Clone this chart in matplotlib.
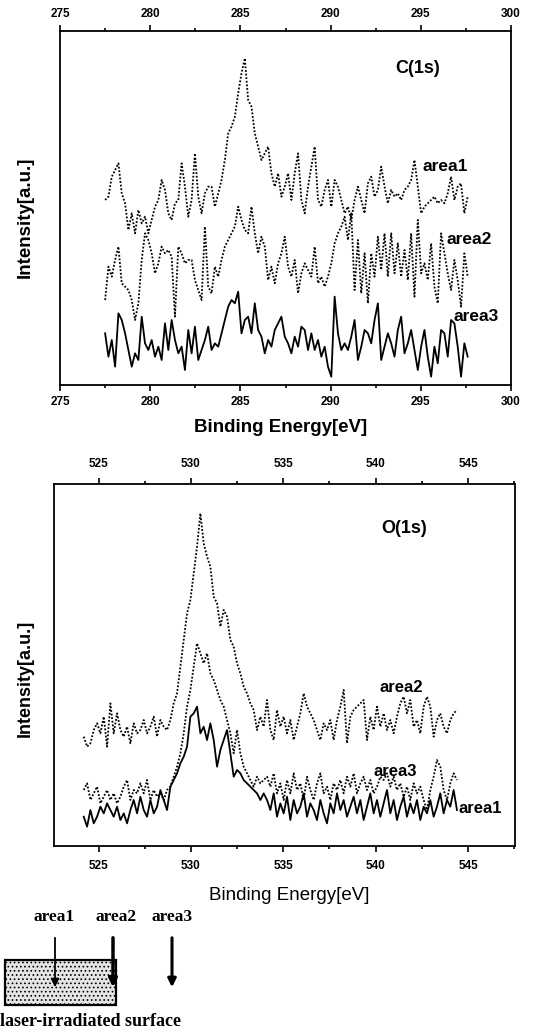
import numpy as np
import matplotlib
matplotlib.use("Agg")
import matplotlib.pyplot as plt
from matplotlib.ticker import MultipleLocator
from matplotlib.patches import Rectangle

plt.rcParams["font.family"] = ["Liberation Sans", "DejaVu Sans"]
plt.rcParams["hatch.linewidth"] = 0.7

# --------------------------------------------------
# DATA  (intensities in arbitrary units)
# --------------------------------------------------

c1s_start, c1s_end = 277.5, 297.6

c1s_area1 = [555, 565, 625, 645, 665, 575, 545, 465, 515, 455, 525, 485, 505, 455, 495, 535,
             555, 615, 585, 515, 495, 545, 555, 665, 595, 505, 555, 695, 565, 515, 575, 595,
             595, 535, 575, 615, 675, 755, 775, 805, 875, 935, 980, 855, 835, 755, 715, 675,
             695, 715, 635, 595, 635, 565, 595, 635, 555, 635, 695, 555, 515, 595, 655, 715,
             555, 535, 585, 615, 535, 615, 595, 555, 515, 535, 495, 555, 595, 555, 515, 605,
             625, 565, 585, 655, 595, 545, 585, 565, 575, 555, 585, 595, 615, 675, 595, 515,
             535, 545, 555, 565, 545, 555, 545, 575, 625, 555, 595, 605, 515, 565]

c1s_area2 = [255, 355, 325, 375, 415, 305, 295, 285, 255, 195, 245, 375, 455, 435, 395, 335,
             365, 415, 395, 405, 385, 205, 415, 395, 365, 375, 375, 315, 285, 255, 475, 295,
             275, 355, 325, 375, 415, 435, 455, 475, 535, 495, 465, 455, 535, 455, 395, 445,
             415, 315, 355, 305, 365, 395, 445, 355, 325, 375, 275, 335, 365, 345, 325, 415,
             305, 325, 295, 325, 365, 425, 455, 475, 505, 435, 515, 285, 435, 275, 395, 245,
             395, 325, 445, 345, 455, 325, 455, 335, 425, 325, 405, 315, 455, 265, 495, 335,
             365, 315, 425, 295, 245, 455, 395, 335, 285, 375, 315, 235, 395, 325]

c1s_area3 = [155, 85, 135, 55, 215, 195, 155, 105, 55, 95, 75, 205, 125, 105, 135, 85,
             115, 75, 185, 105, 195, 135, 95, 115, 45, 165, 95, 175, 75, 105, 135, 175,
             105, 125, 115, 155, 195, 235, 255, 245, 280, 155, 195, 205, 155, 245, 165, 145,
             95, 135, 115, 165, 185, 205, 145, 125, 95, 145, 115, 175, 165, 105, 155, 105,
             135, 85, 115, 55, 25, 265, 155, 105, 125, 105, 145, 195, 75, 115, 165, 155,
             125, 195, 245, 75, 115, 155, 125, 85, 165, 205, 95, 125, 165, 105, 45, 115,
             165, 85, 25, 115, 65, 165, 155, 85, 195, 185, 115, 25, 125, 85]

o1s_start, o1s_end = 524.2, 544.4

o1s_area2 = [328, 298, 308, 348, 368, 338, 388, 298, 428, 338, 398, 348, 328, 358, 308, 368,
             338, 348, 378, 338, 358, 388, 328, 378, 358, 348, 378, 428, 458, 538, 618, 698,
             738, 818, 898, 998, 908, 868, 838, 748, 728, 658, 708, 688, 618, 598, 548, 518,
             478, 458, 428, 408, 348, 388, 358,
             438, 348, 318, 408, 358, 388, 338, 378, 318, 358, 398, 458, 418, 398, 378, 348,
             318, 368, 348, 378, 318, 378, 418, 468, 308, 388, 408, 418, 428, 438, 318, 388,
             348, 418, 358, 398, 348, 378, 338, 388, 428, 448, 398, 438, 358, 378, 338, 418,
             448, 418, 328, 378, 398, 358, 338, 378, 398, 408]

o1s_area3 = [168, 188, 138, 158, 178, 128, 148, 168, 138, 158, 128, 148, 178, 198, 138, 168,
             158, 188, 158, 198, 138, 168, 148, 158, 138, 168, 178, 208, 238, 278, 338, 418,
             468, 538, 608, 578, 548, 578, 518, 498, 468, 438, 418, 378, 338, 278, 348, 278,
             238, 218, 198, 178, 208, 188, 198,
             208, 178, 218, 158, 188, 138, 198, 158, 218, 168, 188, 138, 208, 168, 138, 188,
             218, 158, 178, 138, 188, 168, 198, 158, 208, 178, 218, 158, 188, 208, 168, 198,
             158, 178, 208, 198, 218, 178, 208, 168, 188, 148, 178, 138, 188, 158, 178, 138,
             108, 168, 208, 258, 238, 168, 138, 188, 218, 198]

o1s_area1 = [88, 58, 108, 68, 88, 118, 98, 128, 108, 88, 118, 78, 98, 68, 108, 138,
             98, 148, 108, 88, 138, 98, 118, 168, 138, 108, 178, 198, 218, 248, 268, 298,
             388, 398, 418, 338, 358, 318, 368, 318, 238, 288, 318, 348, 278, 208, 228, 218,
             198, 188, 178, 168, 158, 138, 158,
             138, 108, 158, 88, 128, 98, 148, 78, 138, 98, 118, 158, 88, 128, 108, 78,
             138, 98, 68, 128, 98, 158, 108, 138, 88, 118, 148, 98, 138, 78, 118, 158,
             98, 138, 88, 128, 168, 98, 138, 78, 118, 148, 88, 128, 98, 138, 78, 118,
             98, 138, 88, 118, 158, 98, 138, 118, 168, 108]

dotted = (0, (1, 1))

# --------------------------------------------------
# FIGURE
# --------------------------------------------------

fig = plt.figure(figsize=(5.33, 10.33), dpi=100)
ax1 = fig.add_axes([0.1126, 0.6273, 0.8461, 0.3427])
ax2 = fig.add_axes([0.1013, 0.1810, 0.8649, 0.3505])


def style_axis(ax, xmin, xmax, ymax, pad):
    ax.set_xlim(xmin, xmax)
    ax.set_ylim(0, ymax)
    ax.set_yticks([])
    ax.xaxis.set_major_locator(MultipleLocator(5))
    ax.xaxis.set_minor_locator(MultipleLocator(2.5))
    ax.tick_params(axis="x", which="both", direction="out", top=True, bottom=True,
                   labeltop=True, labelbottom=True, width=1.2, labelsize=8.5)
    ax.tick_params(axis="x", which="major", length=4, pad=pad)
    ax.tick_params(axis="x", which="minor", length=2.5)
    for t in ax.xaxis.get_major_ticks():
        t.label1.set_fontweight("bold")
        t.label2.set_fontweight("bold")
    for sp in ax.spines.values():
        sp.set_linewidth(1.3)


# --------------------------------------------------
# PLOT 1 : C(1s)
# --------------------------------------------------

style_axis(ax1, 275, 300, 1062, 4)
e = np.linspace(c1s_start, c1s_end, len(c1s_area1))
ax1.plot(e, c1s_area1, color="black", lw=1.3, ls=dotted)
e = np.linspace(c1s_start, c1s_end, len(c1s_area2))
ax1.plot(e, c1s_area2, color="black", lw=1.3, ls=dotted)
e = np.linspace(c1s_start, c1s_end, len(c1s_area3))
ax1.plot(e, c1s_area3, color="black", lw=1.3)

ax1.text(294.85, 948, "C(1s)", ha="center", va="center", fontsize=13, fontweight="bold")
ax1.text(295.1, 654, "area1", ha="left", va="center", fontsize=12.5, fontweight="bold")
ax1.text(296.45, 435, "area2", ha="left", va="center", fontsize=12.5, fontweight="bold")
ax1.text(296.8, 204, "area3", ha="left", va="center", fontsize=12.5, fontweight="bold")

# --------------------------------------------------
# PLOT 2 : O(1s)
# --------------------------------------------------

style_axis(ax2, 522.59, 547.54, 1086, 6)
e = np.linspace(o1s_start, o1s_end, len(o1s_area2))
ax2.plot(e, o1s_area2, color="black", lw=1.3, ls=dotted)
e = np.linspace(o1s_start, o1s_end, len(o1s_area3))
ax2.plot(e, o1s_area3, color="black", lw=1.3, ls=dotted)
e = np.linspace(o1s_start, o1s_end, len(o1s_area1))
ax2.plot(e, o1s_area1, color="black", lw=1.3)

ax2.text(541.55, 951, "O(1s)", ha="center", va="center", fontsize=13, fontweight="bold")
ax2.text(540.2, 474, "area2", ha="left", va="center", fontsize=12, fontweight="bold")
ax2.text(539.9, 225, "area3", ha="left", va="center", fontsize=12, fontweight="bold")
ax2.text(544.5, 114, "area1", ha="left", va="center", fontsize=12, fontweight="bold")

# axis labels
W, H = 533, 1033
fig.text(281 / W, 1 - 428 / H, "Binding Energy[eV]", ha="center", va="center",
         fontsize=13.5, fontweight="bold")
fig.text(25 / W, 1 - 217 / H, "Intensity[a.u.]", ha="center", va="center",
         rotation=90, fontsize=13.5, fontweight="bold")
fig.text(289 / W, 1 - 895 / H, "Binding Energy[eV]", ha="center", va="center",
         fontsize=13.5)
fig.text(25 / W, 1 - 678 / H, "Intensity[a.u.]", ha="center", va="center",
         rotation=90, fontsize=13, fontweight="bold")

# --------------------------------------------------
# SKETCH : measured areas
# --------------------------------------------------

sk = fig.add_axes([0, 0, 1, 1], zorder=-1)
sk.set_xlim(0, W)
sk.set_ylim(H, 0)
sk.axis("off")
sk.add_patch(Rectangle((5, 960), 111, 45, facecolor="#e4e4e4", edgecolor="black",
                       lw=1.6, hatch="...."))
serif = ["Liberation Serif", "DejaVu Serif"]
for name, xc in [("area1", 54), ("area2", 116), ("area3", 172)]:
    sk.text(xc, 917, name, ha="center", va="center", fontsize=12.5, fontweight="bold",
            family=serif)
for xc, lw in [(55, 1.3), (113, 2.5), (172, 2.2)]:
    sk.annotate("", xy=(xc, 990), xytext=(xc, 935),
                arrowprops=dict(arrowstyle="-|>", color="black", lw=lw,
                                mutation_scale=12))
sk.text(0, 1022, "laser-irradiated surface", ha="left", va="center", fontsize=13,
        fontweight="bold", family=serif)

fig.savefig("out.png", dpi=100)
